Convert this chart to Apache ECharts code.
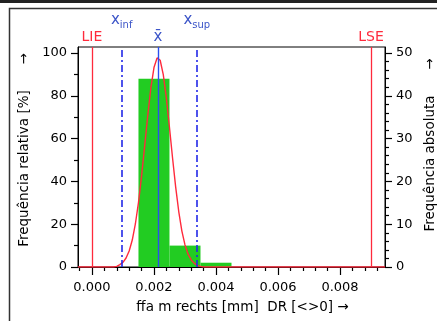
<!DOCTYPE html>
<html>
<head>
<meta charset="utf-8">
<script src="https://cdn.jsdelivr.net/npm/echarts@6/dist/echarts.min.js"></script>
<style>
  html, body { margin: 0; padding: 0; background: #ffffff; }
  #chart { width: 437px; height: 321px; }
</style>
</head>
<body>
<div id="chart"></div>
<script>
// Histogram classes (mm) and relative frequency (%)
const binStart = [0.0015, 0.0025, 0.0035];
const binEnd   = [0.0025, 0.0035, 0.0045];
const relFreq  = [88, 10, 2];

// Fitted distribution curve, relative frequency (%)
const curveX = [-0.00045, 0.0007, 0.0008, 0.0009, 0.0010, 0.0011, 0.0012, 0.0013, 0.0014,
                0.0015, 0.0016, 0.0017, 0.0018, 0.0019, 0.0020, 0.0021, 0.00213, 0.0022,
                0.0023, 0.0024, 0.0025, 0.0026, 0.0027, 0.0028, 0.0029, 0.0030, 0.0031,
                0.0032, 0.0033, 0.0034, 0.0035, 0.0036, 0.00945];
const curveY = [0, 0, 0.3, 1.1, 2.2, 4.2, 7.5, 12.6, 20.1,
                30.1, 42.5, 56.5, 70.9, 83.7, 93.2, 97.7, 98.0, 96.6,
                89.9, 78.9, 65.2, 50.8, 37.3, 25.8, 16.8, 10.3, 6.0,
                3.3, 1.7, 0.8, 0.3, 0, 0];

// Specification limits and statistics (mm)
const LIE = 0.000;
const LSE = 0.009;
const xMean = 0.00213;
const xInf = 0.00096;
const xSup = 0.00338;

// Axis ranges and ticks
const xMin = -0.00045, xMax = 0.00945;
const xMajorTicks = [0, 0.002, 0.004, 0.006, 0.008];
const xMinorTicks = [-0.0004, 0.0004, 0.0008, 0.0012, 0.0016, 0.0024, 0.0028, 0.0032, 0.0036,
                     0.0044, 0.0048, 0.0052, 0.0056, 0.0064, 0.0068, 0.0072, 0.0076,
                     0.0084, 0.0088, 0.0092];
const relMax = 102.8, absMax = 51.4;
const relTicks = [0, 20, 40, 60, 80, 100];
const relMinorTicks = [10, 30, 50, 70, 90];
const absTicks = [0, 10, 20, 30, 40, 50];
const absMinorTicks = [2, 4, 6, 8, 12, 14, 16, 18, 22, 24, 26, 28, 32, 34, 36, 38, 42, 44, 46, 48];

const FONT = 'DejaVu Sans';
const RED = '#ff2a3c';
const BLUE = '#2a4ff0';
const DASH_BLUE = '#2228e8';
const GREEN = '#22cc22';

const chart = echarts.init(document.getElementById('chart'), null, { renderer: 'canvas' });

const binData = binStart.map((s, i) => [s, binEnd[i], relFreq[i]]);
const curveData = curveX.map((x, i) => [x, curveY[i]]);

function vLine(x, color, type, width, labelText, labelColor, dist, size, rich) {
  return {
    xAxis: x,
    lineStyle: { color: color, type: type, width: width },
    label: {
      show: true, position: 'end', distance: dist,
      formatter: labelText, color: labelColor,
      fontFamily: FONT, fontSize: size, rich: rich || {}
    }
  };
}

const subRich = {
  x: { fontFamily: FONT, fontSize: 15, color: '#3c55c8', verticalAlign: 'bottom' },
  s: { fontFamily: FONT, fontSize: 10, color: '#3c55c8', verticalAlign: 'bottom', padding: [0, 0, -2, 0] }
};

const baseLabel = { color: '#000', fontFamily: FONT, fontSize: 13 };

chart.setOption({
  animation: false,
  backgroundColor: '#ffffff',
  grid: {
    left: 78, right: 52, top: 47, bottom: 54,
    containLabel: false, outerBoundsMode: 'none',
    show: true, borderColor: '#000', borderWidth: 1, backgroundColor: 'transparent'
  },
  xAxis: [
    {
      type: 'value', position: 'bottom', min: xMin, max: xMax,
      axisLine: { show: true, onZero: false, lineStyle: { color: '#000', width: 1 } },
      axisTick: { show: true, inside: false, length: 8, customValues: xMajorTicks, lineStyle: { color: '#000', width: 1.2 } },
      axisLabel: { ...baseLabel, margin: 14, customValues: xMajorTicks, formatter: v => v.toFixed(3) },
      splitLine: { show: false },
      name: 'ffa m rechts [mm]  DR [<>0] \u2192',
      nameLocation: 'middle', nameGap: 33,
      nameTextStyle: { ...baseLabel, fontSize: 13.5, padding: [0, 0, 0, 22] }
    },
    {
      type: 'value', position: 'bottom', min: xMin, max: xMax,
      axisLine: { show: false, onZero: false },
      axisTick: { show: true, length: 4, customValues: xMinorTicks, lineStyle: { color: '#000', width: 1.2 } },
      axisLabel: { show: false },
      splitLine: { show: false }
    }
  ],
  yAxis: [
    {
      type: 'value', position: 'left', min: 0, max: relMax,
      axisLine: { show: true, onZero: false, lineStyle: { color: '#000', width: 1 } },
      axisTick: { show: true, length: 7, customValues: relTicks, lineStyle: { color: '#000', width: 1.2 } },
      axisLabel: { ...baseLabel, margin: 11, customValues: relTicks },
      splitLine: { show: false },
      name: 'Frequência relativa [%]      \u2192',
      nameLocation: 'middle', nameGap: 46,
      nameTextStyle: { ...baseLabel, fontSize: 13.5, padding: [0, 0, 0, 14] }
    },
    {
      type: 'value', position: 'right', min: 0, max: absMax,
      axisLine: { show: true, onZero: false, lineStyle: { color: '#000', width: 1 } },
      axisTick: { show: true, length: 7, customValues: absTicks, lineStyle: { color: '#000', width: 1.2 } },
      axisLabel: { ...baseLabel, margin: 11, customValues: absTicks },
      splitLine: { show: false },
      name: 'Frequência absoluta      \u2192',
      nameLocation: 'middle', nameGap: 36,
      nameTextStyle: { ...baseLabel, fontSize: 13.5, padding: [0, 0, 0, 24] }
    },
    {
      type: 'value', position: 'left', min: 0, max: relMax,
      axisLine: { show: false, onZero: false },
      axisTick: { show: true, length: 4, customValues: relMinorTicks, lineStyle: { color: '#000', width: 1.2 } },
      axisLabel: { show: false },
      splitLine: { show: false }
    },
    {
      type: 'value', position: 'right', min: 0, max: absMax,
      axisLine: { show: false, onZero: false },
      axisTick: { show: true, length: 4, customValues: absMinorTicks, lineStyle: { color: '#000', width: 1.2 } },
      axisLabel: { show: false },
      splitLine: { show: false }
    }
  ],
  series: [
    {
      name: 'Histograma',
      type: 'custom',
      xAxisIndex: 0, yAxisIndex: 0,
      data: binData,
      encode: { x: [0, 1], y: 2 },
      renderItem: function (params, api) {
        const p0 = api.coord([api.value(0), api.value(2)]);
        const p1 = api.coord([api.value(1), 0]);
        return {
          type: 'rect',
          shape: { x: p0[0], y: p0[1], width: p1[0] - p0[0], height: p1[1] - p0[1] },
          style: { fill: GREEN }
        };
      },
      z: 2
    },
    {
      name: 'Curva',
      type: 'line',
      xAxisIndex: 0, yAxisIndex: 0,
      data: curveData,
      showSymbol: false,
      smooth: false,
      lineStyle: { color: RED, width: 1.4 },
      z: 4,
      markLine: {
        silent: true,
        symbol: 'none',
        precision: 6,
        data: [
          vLine(LIE, RED, 'solid', 1.3, 'LIE', RED, 3, 14),
          vLine(LSE, RED, 'solid', 1.3, 'LSE', RED, 3, 14),
          vLine(xMean, BLUE, 'solid', 1.4, 'x\u0304', '#3c55c8', 2, 15),
          vLine(xInf, DASH_BLUE, [7, 3, 2, 3], 1.6, '{x|x}{s|inf}', '#3c55c8', 19, 13, subRich),
          vLine(xSup, DASH_BLUE, [7, 3, 2, 3], 1.6, '{x|x}{s|sup}', '#3c55c8', 19, 13, subRich)
        ]
      }
    }
  ],
  graphic: [
    { type: 'rect', left: 0, top: 0, shape: { width: 437, height: 3 }, style: { fill: '#222' }, z: 10 },
    { type: 'polyline', shape: { points: [[9.5, 321], [9.5, 8.5], [437, 8.5]] }, style: { stroke: '#333', lineWidth: 1.5, fill: null }, z: 10 }
  ]
});
</script>
</body>
</html>
